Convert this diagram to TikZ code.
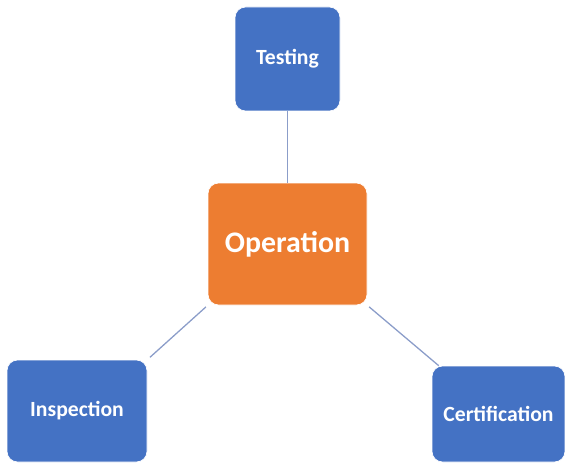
\documentclass[tikz,border=0pt]{standalone}
\usepackage{fontspec}
\setmainfont{Carlito}
\usepackage{tikz}
\usetikzlibrary{positioning}

\definecolor{boxblue}{HTML}{4472C4}
\definecolor{boxorange}{HTML}{ED7D31}
\definecolor{linkgray}{HTML}{8B9DC9}

\tikzset{
    task/.style={rectangle, rounded corners=9pt, fill=boxblue, draw=white, line width=0.6pt,
        text=white, font=\fontsize{18.5}{20}\selectfont\bfseries, align=center},
    hub/.style={task, fill=boxorange, font=\fontsize{25.5}{28}\selectfont\bfseries},
    link/.style={linkgray, line width=1.1pt}
}

\begin{document}
\begin{tikzpicture}
    % Khung hình
    \useasboundingbox (0,0) rectangle (16.95,-13.92);

    % Nút trung tâm
    \node[hub, minimum width=4.77cm, minimum height=3.66cm] (op) at (8.625,-7.32) {Operation};

    % Các nút xung quanh
    \node[task, minimum width=3.15cm, minimum height=3.12cm] (test) at (8.625,-1.77) {Testing};
    \node[task, minimum width=4.2cm, minimum height=3.06cm] (insp) at (2.31,-12.33) {Inspection};
    \node[task, minimum width=3.99cm, minimum height=2.88cm] (cert) at (14.955,-12.42) {Certification};

    % Các đường nối
    \draw[link] (test.south) -- (op.north);
    \draw[link, shorten <=2pt, shorten >=3pt] (op.south west) -- (insp.north east);
    \draw[link, shorten <=2pt] (op.south east) -- ([xshift=6pt]cert.north west);
\end{tikzpicture}
\end{document}
